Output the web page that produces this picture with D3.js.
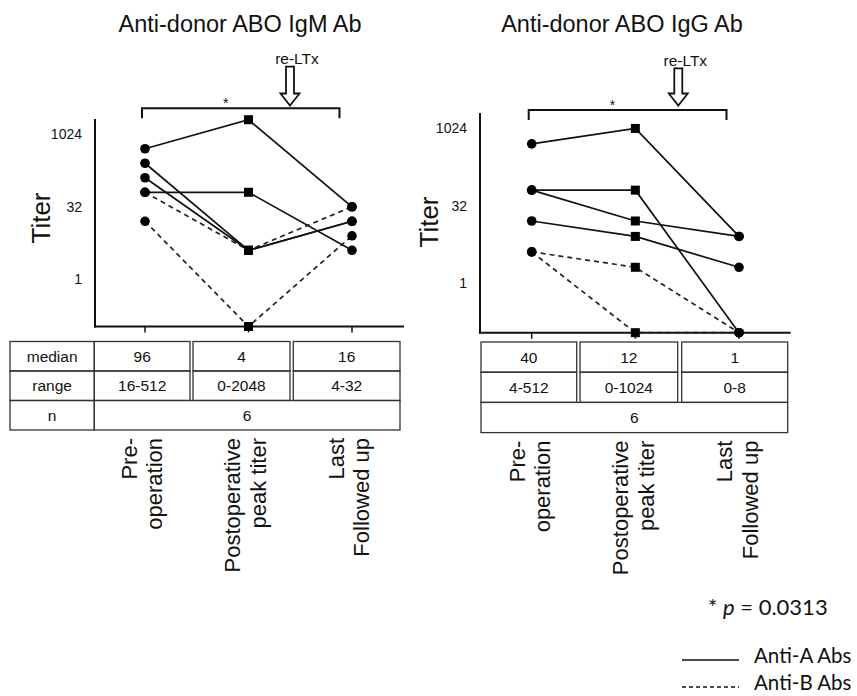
<!DOCTYPE html>
<html>
<head>
<meta charset="utf-8">
<script src="https://cdn.jsdelivr.net/npm/d3@7/dist/d3.min.js"></script>
<style>
  body { margin: 0; background: #fff; }
  text { font-family: "Liberation Sans", Arial, sans-serif; fill: #111; }
</style>
</head>
<body>
<svg id="chart" width="857" height="696"></svg>
<script>
// categories along x
var categories = ["Pre-operation", "Postoperative peak titer", "Last Followed up"];
var catLines = [["Pre-", "operation"], ["Postoperative", "peak titer"], ["Last", "Followed up"]];
var yTicks = [1, 32, 1024];

// IgM titers per patient: [pre, peak, last]  (0 = undetectable)
var igmAntiA = [[512, 2048, 32], [64, 64, 4], [256, 4, 16], [128, 4, 16]];
var igmAntiB = [[64, 4, 32], [16, 0, 8]];
var igmMedian = ["96", "4", "16"];
var igmRange = ["16-512", "0-2048", "4-32"];
var igmN = "6";

// IgG titers per patient
var iggAntiA = [[512, 1024, 8], [64, 64, 0], [64, 16, 8], [16, 8, 2]];
var iggAntiB = [[4, 2, 0], [4, 0, 0]];
var iggMedian = ["40", "12", "1"];
var iggRange = ["4-512", "0-1024", "0-8"];
var iggN = "6";

var svg = d3.select("#chart");

var panels = [
  {
    title: "Anti-donor ABO IgM Ab", titleX: 240,
    axisX: 95, top: 119, bottom: 326.5, right: 404,
    xRange: [145, 352], logDomain: [-3.25, 11.05],
    antiA: igmAntiA, antiB: igmAntiB,
    titerX: 50, titerY: 218,
    bracketY: 108.3, arrowX: 290, arrowTop: 66.7,
    labelDx: 8.5,
    table: { top: 341.5, rowH: 29.5, label: 10, cols: [[94.3, 190], [193, 290], [293.3, 400]] },
    median: igmMedian, range: igmRange, n: igmN
  },
  {
    title: "Anti-donor ABO IgG Ab", titleX: 622,
    axisX: 480, top: 113, bottom: 332.7, right: 790.7,
    xRange: [531.7, 739], logDomain: [-3.24, 11.0],
    antiA: iggAntiA, antiB: iggAntiB,
    titerX: 438, titerY: 222,
    bracketY: 110, arrowX: 678.3, arrowTop: 68.3,
    labelDx: 7,
    table: { top: 342, rowH: 30.2, label: null, cols: [[481, 576.7], [580, 677.7], [681.7, 787.7]] },
    median: iggMedian, range: iggRange, n: iggN
  }
];

panels.forEach(function (p) {
  var g = svg.append("g");

  var x = d3.scalePoint().domain(categories).range(p.xRange);
  var y = d3.scaleLog().base(2)
    .domain([Math.pow(2, p.logDomain[0]), Math.pow(2, p.logDomain[1])])
    .range([p.bottom, p.top]);
  var yv = function (v) { return v === 0 ? p.bottom : y(v); };

  g.append("text")
    .attr("x", p.titleX).attr("y", 32)
    .attr("text-anchor", "middle")
    .style("font-size", "23.5px")
    .text(p.title);

  // y axis
  var yAxis = d3.axisLeft(y).tickValues(yTicks).tickSize(0).tickPadding(13)
    .tickFormat(d3.format("d"));
  var ya = g.append("g").attr("transform", "translate(" + p.axisX + ",0)").call(yAxis);
  ya.select(".domain").remove();
  ya.selectAll("text").style("font-size", "14px").attr("fill", "#111");
  g.append("line")
    .attr("x1", p.axisX).attr("x2", p.axisX)
    .attr("y1", p.top).attr("y2", p.bottom + 1)
    .attr("stroke", "#111").attr("stroke-width", 2);

  // x axis
  g.append("line")
    .attr("x1", p.axisX - 1).attr("x2", p.right)
    .attr("y1", p.bottom).attr("y2", p.bottom)
    .attr("stroke", "#111").attr("stroke-width", 2);
  g.selectAll(".xtick").data(categories).enter().append("line")
    .attr("x1", function (d) { return x(d); }).attr("x2", function (d) { return x(d); })
    .attr("y1", p.bottom).attr("y2", p.bottom + 6)
    .attr("stroke", "#111").attr("stroke-width", 1.5);

  g.append("text")
    .attr("transform", "translate(" + p.titerX + "," + p.titerY + ") rotate(-90)")
    .attr("text-anchor", "middle")
    .style("font-size", "26px")
    .text("Titer");

  // patient lines
  var line = d3.line()
    .x(function (d, i) { return x(categories[i]); })
    .y(function (d) { return yv(d); });

  g.selectAll(".lineA").data(p.antiA).enter().append("path")
    .attr("d", line).attr("fill", "none")
    .attr("stroke", "#111").attr("stroke-width", 1.7);
  g.selectAll(".lineB").data(p.antiB).enter().append("path")
    .attr("d", line).attr("fill", "none")
    .attr("stroke", "#222").attr("stroke-width", 1.7)
    .attr("stroke-dasharray", "5,4");

  var all = p.antiA.concat(p.antiB);
  var pts = [];
  all.forEach(function (s) {
    s.forEach(function (v, i) { pts.push({ i: i, v: v }); });
  });
  g.selectAll(".dot").data(pts.filter(function (d) { return d.i !== 1; })).enter().append("circle")
    .attr("cx", function (d) { return x(categories[d.i]); })
    .attr("cy", function (d) { return yv(d.v); })
    .attr("r", 4.8).attr("fill", "#000");
  g.selectAll(".sq").data(pts.filter(function (d) { return d.i === 1; })).enter().append("rect")
    .attr("x", function (d) { return x(categories[d.i]) - 4.5; })
    .attr("y", function (d) { return yv(d.v) - 4.5; })
    .attr("width", 9).attr("height", 9).attr("fill", "#000");

  // significance bracket
  var bx0 = x(categories[0]) - 3, bx1 = x(categories[2]) - 12.5;
  g.append("path")
    .attr("d", "M" + bx0 + "," + (p.bracketY + 10) + "V" + p.bracketY + "H" + bx1 + "V" + (p.bracketY + 10))
    .attr("fill", "none").attr("stroke", "#111").attr("stroke-width", 2);
  g.append("text")
    .attr("x", (bx0 + bx1) / 2 - 15).attr("y", p.bracketY - 0.5)
    .attr("text-anchor", "middle")
    .style("font-size", "14px")
    .text("*");

  // re-LTx arrow
  var ax = p.arrowX, headY = 93.5, tip = 105.5;
  g.append("path")
    .attr("d", "M" + (ax - 4) + "," + p.arrowTop + "H" + (ax + 4) + "V" + headY + "H" + (ax + 9.5) +
      "L" + ax + "," + tip + "L" + (ax - 9.5) + "," + headY + "H" + (ax - 4) + "Z")
    .attr("fill", "#fff").attr("stroke", "#111").attr("stroke-width", 1.8);
  g.append("text")
    .attr("x", ax + 7).attr("y", p.arrowTop - 2.5)
    .attr("text-anchor", "middle")
    .style("font-size", "15.5px")
    .text("re-LTx");

  // table
  var t = p.table;
  var rows = [p.median, p.range];
  var rowNames = ["median", "range", "n"];
  var right = t.cols[2][1];
  var tg = g.append("g");
  rows.forEach(function (r, ri) {
    var ry = t.top + ri * t.rowH;
    tg.selectAll(".cell" + ri).data(r).enter().append("rect")
      .attr("x", function (d, i) { return t.cols[i][0]; })
      .attr("y", ry)
      .attr("width", function (d, i) { return t.cols[i][1] - t.cols[i][0]; })
      .attr("height", t.rowH)
      .attr("fill", "none").attr("stroke", "#333").attr("stroke-width", 1.3);
    tg.selectAll(".ctext" + ri).data(r).enter().append("text")
      .attr("x", function (d, i) { return (t.cols[i][0] + t.cols[i][1]) / 2; })
      .attr("y", ry + t.rowH / 2)
      .attr("dy", "0.36em")
      .attr("text-anchor", "middle")
      .style("font-size", "15.5px")
      .text(function (d) { return d; });
  });
  var ny = t.top + 2 * t.rowH;
  tg.append("rect")
    .attr("x", t.cols[0][0]).attr("y", ny)
    .attr("width", right - t.cols[0][0]).attr("height", t.rowH)
    .attr("fill", "none").attr("stroke", "#333").attr("stroke-width", 1.3);
  tg.append("text")
    .attr("x", (t.cols[0][0] + right) / 2).attr("y", ny + t.rowH / 2)
    .attr("dy", "0.36em").attr("text-anchor", "middle")
    .style("font-size", "15.5px")
    .text(p.n);
  if (t.label !== null) {
    rowNames.forEach(function (nm, ri) {
      tg.append("rect")
        .attr("x", t.label).attr("y", t.top + ri * t.rowH)
        .attr("width", t.cols[0][0] - t.label).attr("height", t.rowH)
        .attr("fill", "none").attr("stroke", "#333").attr("stroke-width", 1.3);
      tg.append("text")
        .attr("x", (t.label + t.cols[0][0]) / 2).attr("y", t.top + ri * t.rowH + t.rowH / 2)
        .attr("dy", "0.36em").attr("text-anchor", "middle")
        .style("font-size", "15.5px")
        .text(nm);
    });
  }

  // rotated category labels
  var labTop = t.top + 3 * t.rowH + 8;
  catLines.forEach(function (ls, i) {
    var lt = g.append("text")
      .attr("transform", "translate(" + (x(categories[i]) - p.labelDx) + "," + labTop + ") rotate(-90)")
      .attr("text-anchor", "end")
      .style("font-size", "22px");
    ls.forEach(function (s, j) {
      lt.append("tspan").attr("x", 0).attr("y", j * 25.5).text(s);
    });
  });
});

// legend
var lg = svg.append("g");
var pt = lg.append("text").attr("x", 708).attr("y", 615)
  .style("font-family", "Lato, sans-serif").style("font-size", "22px");
pt.append("tspan").text("* ");
pt.append("tspan").style("font-style", "italic").text("p");
pt.append("tspan").text(" = 0.0313");

var legendItems = [
  { name: "Anti-A Abs", dash: null, y: 660 },
  { name: "Anti-B Abs", dash: "4,3", y: 687 }
];
legendItems.forEach(function (d) {
  lg.append("line")
    .attr("x1", 682).attr("x2", 739).attr("y1", d.y).attr("y2", d.y)
    .attr("stroke", "#111").attr("stroke-width", 1.5)
    .attr("stroke-dasharray", d.dash);
  lg.append("text")
    .attr("x", 754).attr("y", d.y + 3)
    .style("font-family", "Lato, sans-serif").style("font-size", "20.5px")
    .text(d.name);
});
</script>
</body>
</html>
